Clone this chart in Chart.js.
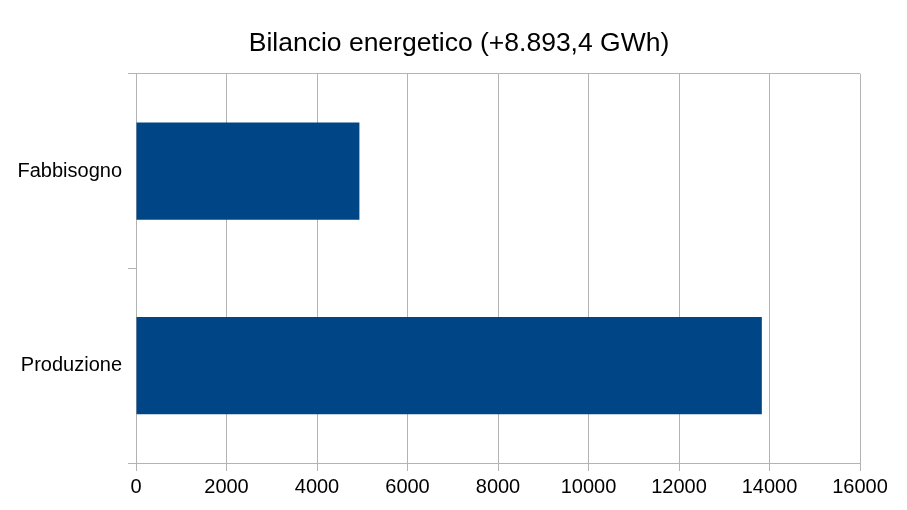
<!DOCTYPE html>
<html>
<head>
<meta charset="utf-8">
<script src="https://cdn.jsdelivr.net/npm/chart.js@4.4.0/dist/chart.umd.min.js"></script>
<style>
html,body{margin:0;padding:0;background:#fff;}
#wrap{width:907px;height:510px;position:relative;}
</style>
</head>
<body>
<div id="wrap"><canvas id="c" width="907" height="510"></canvas></div>
<script>
const titleText = "Bilancio energetico (+8.893,4 GWh)";
const categories = ["Fabbisogno", "Produzione"];
const values = [4937, 13830.4];
const xTicks = [0, 2000, 4000, 6000, 8000, 10000, 12000, 14000, 16000];

const gridGrey = '#b3b3b3';
const font = "'Liberation Sans', Arial, sans-serif";

new Chart(document.getElementById('c'), {
  type: 'bar',
  data: {
    labels: categories,
    datasets: [{
      data: values,
      backgroundColor: '#004586',
      borderWidth: 0,
      barPercentage: 0.5,
      categoryPercentage: 1.0
    }]
  },
  options: {
    indexAxis: 'y',
    responsive: false,
    animation: false,
    devicePixelRatio: 1,
    layout: { padding: { left: 11, right: 0, top: 0, bottom: 0 } },
    plugins: {
      legend: { display: false },
      tooltip: { enabled: false },
      title: {
        display: true,
        text: titleText,
        color: '#000',
        font: { family: font, size: 26.5, weight: 'normal' },
        padding: { top: 28, bottom: 14 }
      }
    },
    scales: {
      x: {
        min: xTicks[0],
        max: xTicks[xTicks.length - 1],
        afterBuildTicks: (s) => { s.ticks = xTicks.map(v => ({ value: v })); },
        afterFit: (s) => { s.height = 47; s.paddingRight = 47; },
        grid: { color: gridGrey, tickColor: gridGrey, tickLength: 8, lineWidth: 1 },
        border: { color: gridGrey, width: 1 },
        ticks: {
          color: '#000', font: { family: font, size: 20 }, padding: 4, maxRotation: 0, autoSkip: false,
          callback: (v) => String(v)
        }
      },
      y: {
        afterFit: (s) => { s.width = 125; },
        grid: {
          offset: true,
          color: (ctx) => ctx.index === 1 ? 'rgba(0,0,0,0)' : gridGrey,
          tickColor: gridGrey,
          tickLength: 8,
          lineWidth: 1
        },
        border: { color: gridGrey, width: 1 },
        ticks: { color: '#000', font: { family: font, size: 20 }, padding: 6 }
      }
    }
  }
});
</script>
</body>
</html>
